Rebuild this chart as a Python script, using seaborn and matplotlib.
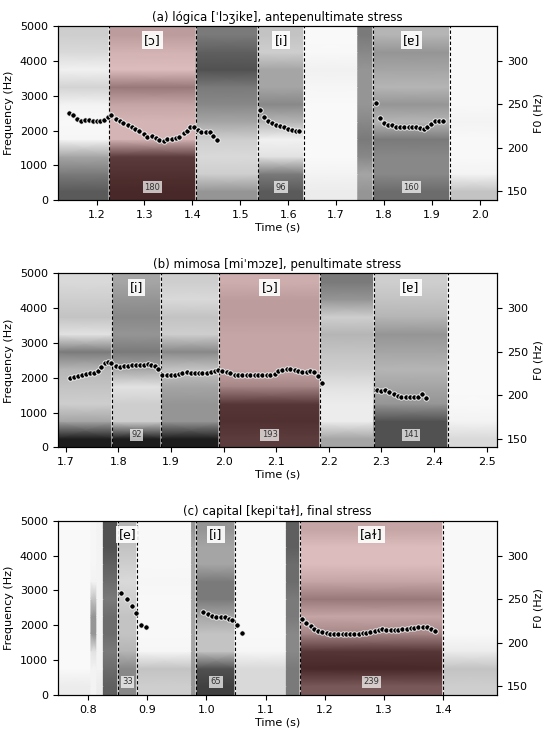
import numpy as np
import pandas as pd
import matplotlib
matplotlib.use("Agg")
import matplotlib.pyplot as plt
import seaborn as sns

# ---------------- data ----------------
titles = ["(a) lógica [ˈlɔʒikɐ], antepenultimate stress",
          "(b) mimosa [miˈmɔzɐ], penultimate stress",
          "(c) capital [kepiˈtaɫ], final stress"]
xlims = [(1.119, 2.036), (1.685, 2.520), (0.749, 1.491)]
xticks = [[1.2, 1.3, 1.4, 1.5, 1.6, 1.7, 1.8, 1.9, 2.0],
          [1.7, 1.8, 1.9, 2.0, 2.1, 2.2, 2.3, 2.4, 2.5],
          [0.8, 0.9, 1.0, 1.1, 1.2, 1.3, 1.4]]

# vowel intervals (s), labels, durations (ms), stressed vowel index
a_vowels = [(1.226, 1.407), (1.537, 1.633), (1.777, 1.937)]
b_vowels = [(1.788, 1.881), (1.992, 2.184), (2.285, 2.427)]
c_vowels = [(0.850, 0.883), (0.983, 1.049), (1.158, 1.399)]
a_labels = ["[ɔ]", "[i]", "[ɐ]"]
b_labels = ["[i]", "[ɔ]", "[ɐ]"]
c_labels = ["[e]", "[i]", "[aɫ]"]
a_dur = ["180", "96", "160"]
b_dur = ["92", "193", "141"]
c_dur = ["33", "65", "239"]
stressed = [0, 1, 2]

# spectrogram: segment edges (s) and darkness per 500-Hz band (0-500 ... 4500-5000)
a_edges = [1.119, 1.226, 1.407, 1.537, 1.633, 1.745, 1.777, 1.937, 2.036]
a_dark = [[0.72, 0.60, 0.45, 0.08, 0.06, 0.10, 0.28, 0.12, 0.25, 0.30],
          [0.85, 0.82, 0.78, 0.20, 0.20, 0.30, 0.50, 0.15, 0.22, 0.35],
          [0.50, 0.30, 0.25, 0.30, 0.45, 0.55, 0.60, 0.75, 0.70, 0.60],
          [0.72, 0.60, 0.20, 0.12, 0.40, 0.55, 0.45, 0.45, 0.30, 0.35],
          [0.15, 0.10, 0.05, 0.05, 0.05, 0.05, 0.08, 0.12, 0.06, 0.05],
          [0.50, 0.45, 0.55, 0.60, 0.55, 0.50, 0.50, 0.50, 0.55, 0.60],
          [0.65, 0.55, 0.55, 0.60, 0.40, 0.50, 0.40, 0.45, 0.50, 0.40],
          [0.35, 0.10, 0.06, 0.06, 0.10, 0.06, 0.06, 0.06, 0.06, 0.06]]
b_edges = [1.685, 1.788, 1.881, 1.992, 2.184, 2.285, 2.427, 2.520]
b_dark = [[0.90, 0.45, 0.30, 0.35, 0.40, 0.60, 0.20, 0.35, 0.30, 0.25],
          [0.90, 0.30, 0.30, 0.20, 0.45, 0.60, 0.50, 0.55, 0.50, 0.45],
          [0.90, 0.50, 0.50, 0.45, 0.35, 0.55, 0.30, 0.35, 0.25, 0.30],
          [0.78, 0.82, 0.80, 0.45, 0.30, 0.30, 0.30, 0.35, 0.35, 0.25],
          [0.45, 0.15, 0.15, 0.20, 0.30, 0.35, 0.40, 0.30, 0.50, 0.60],
          [0.75, 0.75, 0.50, 0.45, 0.40, 0.45, 0.50, 0.40, 0.35, 0.30],
          [0.25, 0.10, 0.06, 0.05, 0.05, 0.05, 0.05, 0.05, 0.05, 0.05]]
c_edges = [0.749, 0.805, 0.815, 0.826, 0.850, 0.883, 0.975, 0.983, 1.049,
           1.135, 1.158, 1.399, 1.491]
c_dark = [[0.15, 0.05, 0.05, 0.05, 0.05, 0.05, 0.05, 0.05, 0.05, 0.05],
          [0.10, 0.10, 0.20, 0.50, 0.50, 0.35, 0.10, 0.08, 0.08, 0.08],
          [0.15, 0.10, 0.10, 0.10, 0.10, 0.10, 0.10, 0.10, 0.10, 0.10],
          [0.70, 0.65, 0.60, 0.65, 0.65, 0.60, 0.65, 0.70, 0.75, 0.75],
          [0.55, 0.55, 0.40, 0.35, 0.35, 0.30, 0.25, 0.30, 0.35, 0.40],
          [0.30, 0.35, 0.08, 0.06, 0.06, 0.06, 0.08, 0.06, 0.06, 0.06],
          [0.50, 0.50, 0.45, 0.45, 0.45, 0.45, 0.45, 0.45, 0.45, 0.50],
          [0.80, 0.75, 0.35, 0.35, 0.45, 0.60, 0.60, 0.45, 0.45, 0.50],
          [0.25, 0.25, 0.08, 0.06, 0.06, 0.06, 0.06, 0.06, 0.06, 0.06],
          [0.60, 0.60, 0.55, 0.55, 0.60, 0.60, 0.65, 0.65, 0.70, 0.70],
          [0.65, 0.85, 0.80, 0.45, 0.30, 0.50, 0.30, 0.15, 0.15, 0.30],
          [0.30, 0.35, 0.15, 0.06, 0.06, 0.06, 0.06, 0.06, 0.06, 0.06]]
band_centers = [250, 750, 1250, 1750, 2250, 2750, 3250, 3750, 4250, 4750]

# F0 tracks (s, Hz)
a_f0_t = [1.143, 1.151, 1.160, 1.167, 1.176, 1.185, 1.193, 1.201, 1.208, 1.216,
          1.224, 1.231, 1.240, 1.248, 1.256, 1.265, 1.273, 1.281, 1.289, 1.298,
          1.306, 1.315, 1.323, 1.331, 1.340, 1.348, 1.357, 1.365, 1.373, 1.382,
          1.389, 1.395, 1.404, 1.411, 1.418, 1.428, 1.436, 1.444, 1.452,
          1.540, 1.549, 1.558, 1.566, 1.574, 1.583, 1.591, 1.599, 1.608, 1.616, 1.623,
          1.784, 1.792, 1.800, 1.809, 1.817, 1.825, 1.834, 1.842, 1.851, 1.859,
          1.867, 1.874, 1.883, 1.890, 1.898, 1.906, 1.915, 1.923]
a_f0 = [240.8, 237.7, 233.1, 230.8, 232.7, 232.7, 231.6, 231.2, 231.6, 232.3,
        235.4, 237.7, 233.9, 231.2, 228.5, 226.6, 224.3, 221.6, 219.3, 215.9,
        212.8, 213.9, 211.6, 209.3, 208.6, 210.1, 210.8, 211.6, 213.2, 217.0,
        220.1, 223.9, 223.6, 220.9, 218.5, 218.5, 218.5, 213.9, 209.7,
        243.4, 235.4, 231.6, 228.9, 227.0, 225.4, 223.9, 222.4, 220.5, 219.3, 219.3,
        251.9, 234.6, 228.5, 225.9, 225.9, 224.7, 224.7, 224.7, 224.7, 224.3,
        223.6, 222.8, 222.4, 223.6, 227.7, 230.8, 230.8, 231.6]
b_f0_t = [1.708, 1.716, 1.723, 1.731, 1.739, 1.746, 1.754, 1.761, 1.768, 1.774,
          1.781, 1.787, 1.796, 1.803, 1.811, 1.818, 1.826, 1.834, 1.841, 1.849,
          1.856, 1.863, 1.870, 1.876, 1.884, 1.892, 1.900, 1.907, 1.915, 1.922,
          1.930, 1.938, 1.945, 1.953, 1.960, 1.968, 1.976, 1.983, 1.990, 1.998,
          2.006, 2.013, 2.021, 2.028, 2.036, 2.044, 2.051, 2.059, 2.066, 2.074,
          2.082, 2.089, 2.097, 2.104, 2.112, 2.120, 2.127, 2.135, 2.142, 2.150,
          2.158, 2.164, 2.171, 2.179, 2.187,
          2.291, 2.299, 2.307, 2.315, 2.323, 2.331, 2.338, 2.346, 2.354, 2.362,
          2.369, 2.377, 2.385]
b_f0 = [220.3, 221.5, 222.3, 223.1, 224.2, 225.3, 226.1, 228.4, 232.9, 236.8,
        238.3, 236.8, 233.7, 232.9, 233.7, 234.1, 234.5, 234.5, 234.5, 235.2,
        236.0, 235.2, 233.7, 230.6, 223.1, 223.8, 223.8, 223.8, 224.6, 226.1,
        226.9, 226.1, 226.1, 226.1, 226.1, 226.1, 226.9, 228.4, 229.1, 227.6,
        226.9, 225.3, 223.8, 223.1, 223.1, 223.1, 223.1, 223.1, 223.1, 223.1,
        223.8, 223.8, 224.6, 227.6, 229.1, 229.9, 229.9, 229.1, 228.4, 226.9,
        226.9, 228.4, 226.9, 222.3, 213.9,
        206.3, 204.8, 206.0, 204.0, 201.0, 199.4, 197.8, 197.5, 197.6, 197.8,
        198.0, 201.5, 197.3]
c_f0_t = [0.856, 0.866, 0.874, 0.881, 0.890, 0.898,
          0.994, 1.002, 1.009, 1.017, 1.024, 1.031, 1.038, 1.044, 1.051, 1.060,
          1.162, 1.169, 1.176, 1.182, 1.189, 1.196, 1.203, 1.209, 1.216, 1.223,
          1.230, 1.236, 1.243, 1.250, 1.257, 1.264, 1.270, 1.277, 1.284, 1.291,
          1.297, 1.304, 1.311, 1.318, 1.324, 1.331, 1.338, 1.345, 1.351, 1.358,
          1.365, 1.372, 1.379, 1.386]
c_f0 = [256.9, 250.0, 241.5, 233.5, 220.0, 217.7,
        235.7, 232.7, 230.7, 229.9, 229.9, 229.2, 227.6, 226.0, 220.6, 210.6,
        227.6, 222.9, 219.1, 216.0, 213.6, 212.1, 211.0, 210.2, 209.8, 209.8,
        209.8, 209.8, 209.8, 209.8, 209.8, 210.6, 211.3, 212.5, 213.6, 214.8,
        215.2, 214.4, 214.8, 214.8, 214.8, 215.2, 215.6, 216.4, 217.1, 217.5,
        218.3, 217.5, 216.0, 213.3]

panels = [
    (a_edges, a_dark, a_vowels, a_labels, a_dur, a_f0_t, a_f0),
    (b_edges, b_dark, b_vowels, b_labels, b_dur, b_f0_t, b_f0),
    (c_edges, c_dark, c_vowels, c_labels, c_dur, c_f0_t, c_f0),
]

# ---------------- style ----------------
sns.set_theme(style="ticks", rc={
    "font.size": 8, "axes.titlesize": 8.5, "axes.labelsize": 8,
    "xtick.labelsize": 8, "ytick.labelsize": 8,
    "axes.linewidth": 0.8, "xtick.major.width": 0.8, "ytick.major.width": 0.8,
    "xtick.major.size": 3.5, "ytick.major.size": 3.5,
    "text.color": "black", "axes.labelcolor": "black",
    "xtick.color": "black", "ytick.color": "black", "axes.edgecolor": "black",
})
plt.rcParams["font.family"] = ["DejaVu Sans"]

fig = plt.figure(figsize=(5.5, 7.36), dpi=100)
bottoms = [0.728, 0.392, 0.056]
stress_col = (0.65, 0.08, 0.08)


def draw_spec(ax, edges, dark):
    X, C = [], []
    for i, col in enumerate(dark):
        X += [edges[i], edges[i + 1]]
        C += [col, col]
    C = np.array(C).T
    C = np.vstack([C[0], C, C[-1]])
    y = np.concatenate([[0], band_centers, [5000]])
    XX, YY = np.meshgrid(X, y)
    ax.pcolormesh(XX, YY, C, cmap="Greys", vmin=0, vmax=1,
                  shading="gouraud", rasterized=True, zorder=0)


for k, (edges, dark, vowels, labels, durs, ft, f0) in enumerate(panels):
    ax = fig.add_axes([0.105, bottoms[k], 0.799, 0.2364])
    draw_spec(ax, edges, dark)
    s0, s1 = vowels[stressed[k]]
    ax.axvspan(s0, s1, color=stress_col, alpha=0.22, lw=0, zorder=1)
    for (v0, v1), lab, d in zip(vowels, labels, durs):
        for t in (v0, v1):
            ax.axvline(t, color="white", lw=1.4, alpha=0.5, zorder=2)
            ax.axvline(t, color="black", lw=0.8, ls=(0, (3, 2)), zorder=3)
        mid = (v0 + v1) / 2
        ax.text(mid, 4600, lab, ha="center", va="center", fontsize=9,
                color="black", zorder=5,
                bbox=dict(facecolor="white", edgecolor="none", alpha=0.9, pad=1.5))
        ax.text(mid, 370, d, ha="center", va="center", fontsize=6,
                color="#333333", zorder=5,
                bbox=dict(facecolor="white", edgecolor="none", alpha=0.7, pad=1.0))
    ax.set_xlim(*xlims[k])
    ax.set_ylim(0, 5000)
    ax.set_xticks(xticks[k])
    ax.set_xticklabels([f"{v:.1f}" for v in xticks[k]])
    ax.set_yticks([0, 1000, 2000, 3000, 4000, 5000])
    ax.set_ylabel("Frequency (Hz)")
    ax.set_xlabel("Time (s)", labelpad=2)
    ax.set_title(titles[k], pad=4)

    ax2 = ax.twinx()
    df = pd.DataFrame({"t": ft, "f0": f0})
    sns.scatterplot(data=df, x="t", y="f0", ax=ax2, color="black", s=15,
                    edgecolor="white", linewidth=0.6, zorder=6, legend=False)
    ax2.set_ylim(140, 340)
    ax2.set_yticks([150, 200, 250, 300])
    ax2.set_ylabel("F0 (Hz)")
    ax2.set_xlim(*xlims[k])
    ax2.set_xlabel("")

fig.savefig("out.png", dpi=100)
